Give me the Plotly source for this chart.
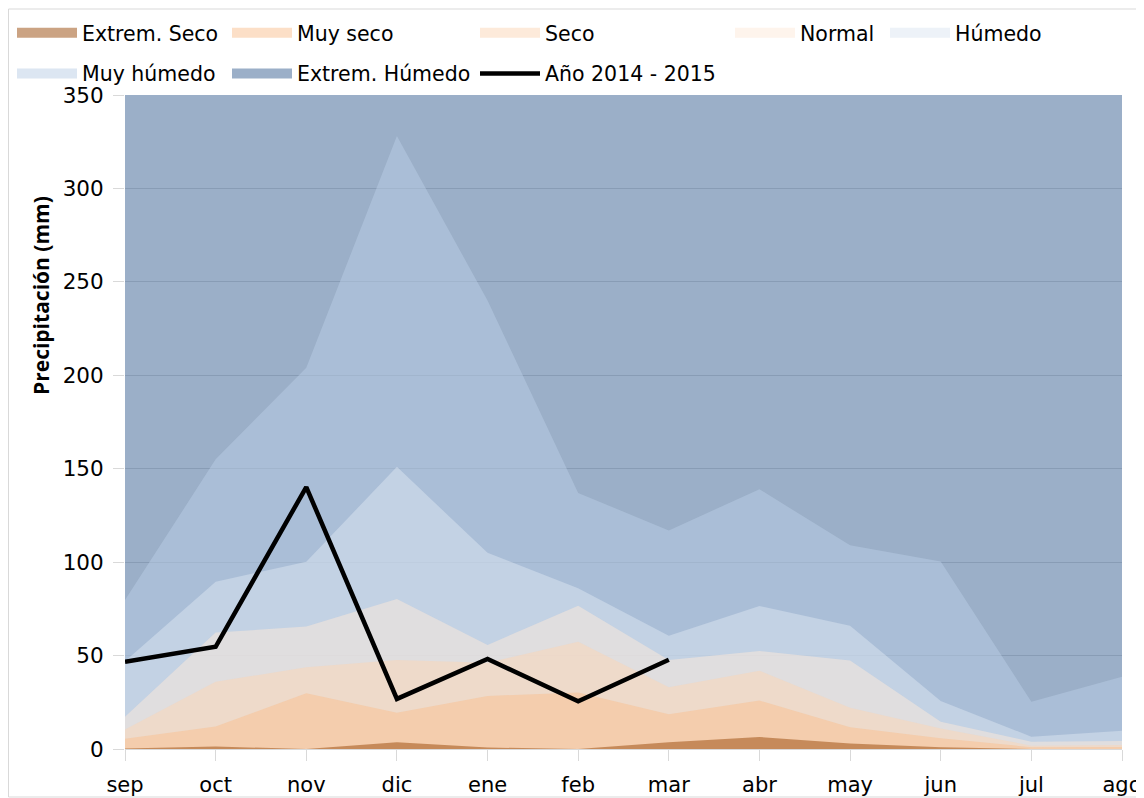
import plotly.graph_objects as go

months = ['sep', 'oct', 'nov', 'dic', 'ene', 'feb', 'mar', 'abr', 'may', 'jun', 'jul', 'ago']

# upper limits of each class (mm)
extrem_seco = [0.3, 1.3, 0.0, 3.6, 0.8, 0.0, 3.6, 6.4, 3.0, 1.0, 0.0, 0.0]
muy_seco = [5.5, 12.0, 29.8, 19.4, 28.4, 30.2, 18.6, 25.9, 11.6, 5.7, 1.0, 1.1]
seco = [10.5, 36.0, 43.7, 47.6, 46.2, 57.4, 33.0, 41.9, 22.1, 11.0, 1.8, 2.1]
normal = [17.3, 62.3, 65.5, 80.3, 55.7, 76.7, 47.6, 52.4, 47.3, 14.6, 3.9, 4.3]
humedo = [47.0, 89.5, 100.2, 151.0, 105.0, 86.0, 60.6, 76.5, 66.0, 25.7, 6.6, 9.8]
muy_humedo = [79.7, 155.0, 204.0, 328.0, 240.0, 137.0, 117.0, 139.0, 109.0, 100.3, 25.3, 38.7]
extrem_humedo = [350, 350, 350, 350, 350, 350, 350, 350, 350, 350, 350, 350]

year_months = ['sep', 'oct', 'nov', 'dic', 'ene', 'feb', 'mar']
year_2014_2015 = [46.7, 54.7, 140.2, 26.8, 48.2, 25.5, 47.8]

y_ticks = [0, 50, 100, 150, 200, 250, 300, 350]

FONT = 'DejaVu Sans'

# (name, values, color, legend, rank) drawn back to front
areas = [
    ('Extrem. Húmedo', extrem_humedo, 'rgba(55,96,146,0.5)', 'legend2', 2),
    ('Muy húmedo', muy_humedo, 'rgba(185,205,229,0.5)', 'legend', 2),
    ('Húmedo', humedo, 'rgba(220,230,242,0.5)', 'legend5', 1),
    ('Normal', normal, 'rgba(253,233,217,0.5)', 'legend4', 1),
    ('Seco', seco, 'rgba(252,213,181,0.5)', 'legend3', 1),
    ('Muy seco', muy_seco, 'rgba(250,192,144,0.5)', 'legend2', 1),
    ('Extrem. Seco', extrem_seco, 'rgba(152,72,7,0.5)', 'legend', 1),
]

fig = go.Figure()
for name, vals, col, leg, rank in areas:
    fig.add_trace(go.Scatter(
        x=months, y=vals, name=name, mode='none', fill='tozeroy',
        fillcolor=col, legendgroup=name, showlegend=False,
        hoverinfo='x+y+name'))

fig.add_trace(go.Scatter(
    x=year_months, y=year_2014_2015, name='Año 2014 - 2015', mode='lines',
    line=dict(color='black', width=4.5), legend='legend3', legendrank=2,
    legendgroup='year'))

# legend swatches (legend-only entries tied to each area through legendgroup)
for name, vals, col, leg, rank in areas:
    fig.add_trace(go.Scatter(
        x=[None], y=[None], name=name, mode='lines',
        line=dict(color=col, width=15), legend=leg, legendrank=rank,
        legendgroup=name, showlegend=True, hoverinfo='skip'))

# the page puts the figure 8px from the window's top-left corner
OFF = 8
W, H = 1144 - OFF, 798 - OFF
ml, mt = 125 - OFF, 95 - OFF
pw, ph = 997, 654
mr, mb = W - ml - pw, H - mt - ph


def leg(xpx):
    return dict(x=xpx / W, y=1 - 5 / H, xref='container',
                yref='container', xanchor='left', yanchor='top',
                orientation='v', traceorder='grouped', tracegroupgap=11,
                font=dict(family=FONT, size=20.5, color='black'),
                bgcolor='rgba(0,0,0,0)', itemwidth=60)


fig.update_layout(
    width=W, height=H,
    margin=dict(l=ml, r=mr, t=mt, b=mb, autoexpand=False),
    paper_bgcolor='white', plot_bgcolor='white',
    font=dict(family=FONT, size=20, color='black'),
    showlegend=True,
    legend=leg(4),
    legend2=leg(219),
    legend3=leg(467),
    legend4=leg(722),
    legend5=leg(877),
    xaxis=dict(type='category', range=[0, len(months) - 1],
               showgrid=False, showline=True, linecolor='#D9D9D9', linewidth=1,
               ticks='outside', ticklen=11, tickcolor='#D9D9D9',
               ticklabelstandoff=6,
               tickfont=dict(family=FONT, size=21, color='black'),
               zeroline=False),
    yaxis=dict(range=[0, 350], tickvals=y_ticks,
               showgrid=True, gridcolor='#D9D9D9', gridwidth=1,
               ticks='outside', ticklen=11, tickcolor='#D9D9D9',
               ticklabelstandoff=5,
               tickfont=dict(family=FONT, size=21.5, color='black'),
               showline=False, zeroline=False),
    annotations=[dict(
        text='<b>Precipitación (mm)</b>', textangle=-90, showarrow=False,
        xref='paper', yref='paper', x=(41 - 125) / pw, y=(749 - 296) / ph,
        xanchor='center', yanchor='middle',
        font=dict(family='Open Sans', size=21, color='black'))],
)

# chart border
fig.add_shape(type='rect', xref='paper', yref='paper',
              x0=(8.5 - 125) / pw, x1=(1150 - 125) / pw,
              y0=(749 - 797) / ph, y1=(749 - 9) / ph,
              line=dict(color='#D9D9D9', width=1), fillcolor='rgba(0,0,0,0)',
              layer='below')

fig.write_html('out.html')
